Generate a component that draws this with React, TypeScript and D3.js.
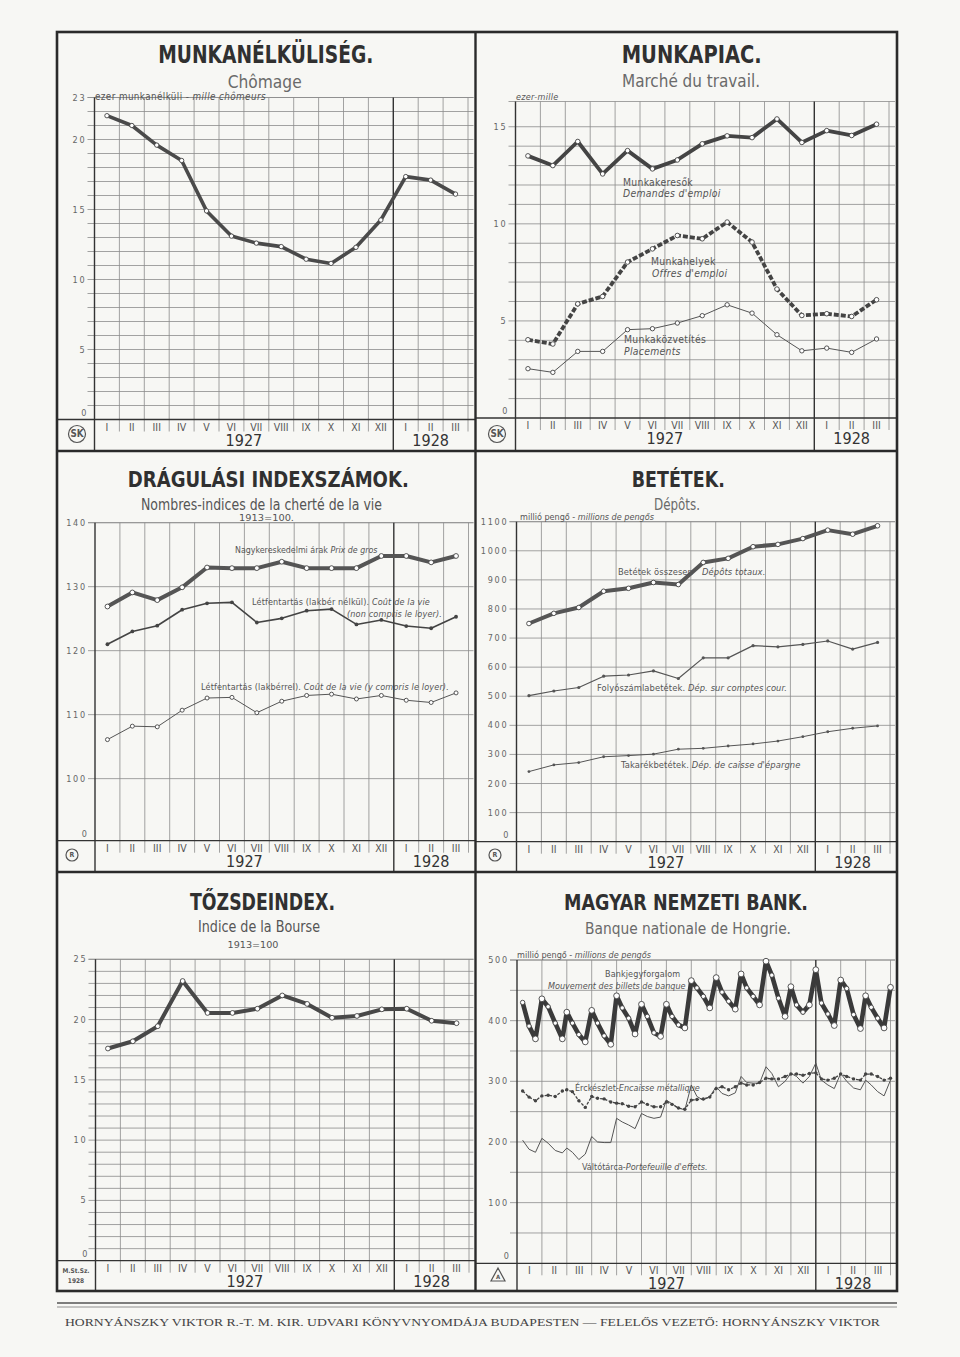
import React from "react";
import * as d3 from "d3";

// ---------- DATA ----------
const months = ["I", "II", "III", "IV", "V", "VI", "VII", "VIII", "IX", "X", "XI", "XII", "I", "II", "III"];
const monthDays = [31, 28, 31, 30, 31, 30, 31, 31, 30, 31, 30, 31, 31, 29, 31];
const years = ["1927", "1928"];
const reportDays = [7, 15, 23]; // plus the last day of each month

// Munkanélküliség (ezer)
const unemployed = [21.7, 21.0, 19.6, 18.5, 14.9, 13.1, 12.6, 12.35, 11.45, 11.15, 12.3, 14.25, 17.35, 17.1, 16.1];

// Munkapiac (ezer)
const jobSeekers = [13.5, 13.0, 14.24, 12.57, 13.77, 12.83, 13.29, 14.12, 14.53, 14.44, 15.4, 14.19, 14.8, 14.55, 15.13];
const jobOffers = [4.03, 3.81, 5.88, 6.26, 8.03, 8.71, 9.4, 9.23, 10.09, 9.06, 6.64, 5.28, 5.37, 5.23, 6.09];
const placements = [2.54, 2.35, 3.43, 3.43, 4.55, 4.6, 4.89, 5.27, 5.83, 5.4, 4.29, 3.46, 3.6, 3.38, 4.07];

// Drágulási indexszámok (1913 = 100)
const wholesale = [126.9, 129.1, 127.9, 129.9, 133.0, 132.9, 132.9, 133.9, 132.9, 132.9, 132.9, 134.8, 134.8, 133.8, 134.8];
const costExRent = [121.0, 123.0, 123.9, 126.4, 127.4, 127.55, 124.4, 125.05, 126.25, 126.5, 124.1, 124.8, 123.85, 123.5, 125.3];
const costInclRent = [106.1, 108.2, 108.1, 110.7, 112.6, 112.7, 110.3, 112.1, 113.0, 113.2, 112.45, 113.0, 112.25, 111.9, 113.4];

// Betétek (millió pengő)
const totalDeposits = [750, 785, 805, 861, 871, 891, 884, 960, 974, 1014, 1022, 1042, 1071, 1057, 1086];
const currentAccounts = [502, 518, 530, 569, 573, 587, 561, 632, 632, 674, 670, 678, 690, 662, 685];
const savingsDeposits = [241, 264, 272, 292, 296, 301, 318, 321, 329, 336, 346, 361, 378, 390, 398];

// Tőzsdeindex
const stockIndex = [17.6, 18.2, 19.45, 23.2, 20.55, 20.55, 20.9, 22.0, 21.3, 20.15, 20.3, 20.85, 20.9, 19.9, 19.7];

// Magyar Nemzeti Bank (millió pengő), 7., 15., 23. és hó vége
const noteCirculation = [
  430, 391, 370, 436, 423, 396, 370, 414, 396, 377, 365, 417, 396, 375, 361, 441,
  421, 404, 378, 427, 407, 380, 374, 427, 407, 393, 388, 466, 454, 440, 421, 471,
  447, 432, 419, 477, 454, 440, 426, 498, 475, 437, 407, 456, 426, 414, 426, 484,
  429, 411, 392, 467, 453, 410, 387, 441, 422, 404, 388, 455,
];
const metalReserve = [
  284, 274, 268, 276, 277, 275, 284, 286, 283, 268, 257, 275, 272, 271, 266, 264,
  263, 259, 258, 266, 262, 258, 258, 266, 262, 256, 254, 269, 270, 271, 274, 288,
  291, 286, 291, 297, 294, 294, 298, 305, 304, 304, 308, 312, 312, 310, 313, 314,
  304, 302, 305, 312, 308, 304, 302, 312, 312, 308, 302, 305,
];
const billPortfolio = [
  203, 188, 183, 206, 198, 186, 182, 190, 183, 171, 180, 209, 200, 199, 199, 239,
  233, 228, 222, 247, 242, 239, 241, 269, 263, 256, 253, 294, 275, 269, 275, 291,
  280, 276, 281, 308, 298, 297, 297, 324, 313, 291, 300, 313, 308, 297, 308, 330,
  302, 294, 288, 313, 300, 289, 286, 302, 294, 283, 276, 302,
];

// ---------- LAYOUT ----------
const COLW = 24.9;
const INK = "#333";
const LINE = "#3e3e3e";
const GRID = "#8c8c8c";
const TXT = "#555";
const PAPER = "#f7f7f4";
const FN = "'Liberation Sans Narrow','DejaVu Sans Condensed','Arial Narrow','Liberation Sans',sans-serif";
const FS = "'Liberation Serif','DejaVu Serif',serif";

const monthlyPos = months.map((_, i) => i + 0.5);
const weeklyPos = monthDays.flatMap((len, m) => [...reportDays, len].map((d) => m + d / len));

type Cfg = {
  left: number; right: number; top: number; bottom: number;
  x0: number; yBase: number; yTop: number; domain: [number, number];
  grid: number[]; labels: number[];
};

const P1: Cfg = { left: 57, right: 475.5, top: 32, bottom: 451, x0: 94.5, yBase: 419.5, yTop: 97.5, domain: [0, 23], grid: d3.range(1, 24), labels: [5, 10, 15, 20, 23] };
const P2: Cfg = { left: 475.5, right: 897, top: 32, bottom: 451, x0: 515.5, yBase: 418, yTop: 101.5, domain: [0, 16.3], grid: d3.range(1, 16), labels: [5, 10, 15] };
const P3: Cfg = { left: 57, right: 475.5, top: 451, bottom: 872, x0: 95, yBase: 840.7, yTop: 522.7, domain: [90.3, 140], grid: d3.range(100, 141, 10), labels: d3.range(100, 141, 10) };
const P4: Cfg = { left: 475.5, right: 897, top: 451, bottom: 872, x0: 516.5, yBase: 841.7, yTop: 521.7, domain: [0, 1100], grid: d3.range(100, 1101, 100), labels: d3.range(100, 1101, 100) };
const P5: Cfg = { left: 57, right: 475.5, top: 872, bottom: 1291, x0: 95.5, yBase: 1260.7, yTop: 959.3, domain: [0, 25], grid: d3.range(1, 26), labels: [5, 10, 15, 20, 25] };
const P6: Cfg = { left: 475.5, right: 897, top: 872, bottom: 1291, x0: 517, yBase: 1263.3, yTop: 960, domain: [0, 500], grid: d3.range(50, 501, 50), labels: d3.range(100, 501, 100) };

type Sc = d3.ScaleLinear<number, number>;

function Panel({ cfg, children }: { cfg: Cfg; children: (x: Sc, y: Sc) => React.ReactNode }) {
  const x = d3.scaleLinear().domain([0, 15]).range([cfg.x0, cfg.x0 + 15 * COLW]);
  const y = d3.scaleLinear().domain(cfg.domain).range([cfg.yBase, cfg.yTop]);
  return (
    <g>
      {cfg.grid.map((v) => (
        <line key={"h" + v} x1={cfg.x0 - 7} x2={cfg.right - 2} y1={y(v)} y2={y(v)} stroke={GRID} strokeWidth={0.8} />
      ))}
      <line x1={cfg.x0 - 7} x2={cfg.right - 2} y1={cfg.yTop} y2={cfg.yTop} stroke={GRID} strokeWidth={0.8} />
      {d3.range(16).map((k) => {
        const full = k === 0 || k === 12;
        return (
          <line key={"v" + k} x1={x(k)} x2={x(k)} y1={cfg.yTop} y2={full ? cfg.bottom : cfg.yBase + 12}
            stroke={full ? INK : GRID} strokeWidth={full ? 1.4 : 0.8} />
        );
      })}
      <line x1={cfg.left} x2={cfg.right} y1={cfg.yBase} y2={cfg.yBase} stroke={INK} strokeWidth={1.3} />
      {months.map((m, i) => (
        <text key={"m" + i} x={x(i + 0.5)} y={cfg.yBase + 11} textAnchor="middle" fontFamily={FN} fontSize={10.5} fill={TXT}>{m}</text>
      ))}
      <text x={x(6)} y={cfg.yBase + 26} textAnchor="middle" fontFamily={FN} fontSize={16} fill={INK}>{years[0]}</text>
      <text x={x(13.5)} y={cfg.yBase + 26} textAnchor="middle" fontFamily={FN} fontSize={16} fill={INK}>{years[1]}</text>
      {cfg.labels.map((v) => (
        <text key={"l" + v} x={cfg.x0 - 8} y={y(v) + 3} textAnchor="end" fontFamily={FN} fontSize={9} letterSpacing={1.8} fill="#666">{v}</text>
      ))}
      <text x={cfg.x0 - 8} y={cfg.yBase - 4} textAnchor="end" fontFamily={FN} fontSize={9} fill="#666">0</text>
      {children(x, y)}
    </g>
  );
}

type SeriesProps = {
  x: Sc; y: Sc; pos: number[]; vals: number[];
  width: number; dash?: string; color?: string;
  marker: "open" | "dot" | "none"; r?: number; rBig?: (i: number) => number;
};

function Series({ x, y, pos, vals, width, dash, color = LINE, marker, r = 2.3, rBig }: SeriesProps) {
  const pts: [number, number][] = vals.map((v, i) => [x(pos[i]), y(v)]);
  const d = d3.line()(pts) || "";
  return (
    <g>
      <path d={d} fill="none" stroke={color} strokeWidth={width} strokeDasharray={dash} strokeLinejoin="round" />
      {marker !== "none" &&
        pts.map(([px, py], i) => (
          <circle key={i} cx={px} cy={py} r={rBig ? rBig(i) : r}
            fill={marker === "open" ? "#fff" : color} stroke={marker === "open" ? "#444" : "none"} strokeWidth={0.9} />
        ))}
    </g>
  );
}

type Part = { t: string; it?: boolean };
function Note({ x, y, parts, size = 9.5, spacing = 0.3, fill = TXT }: { x: number; y: number; parts: Part[]; size?: number; spacing?: number; fill?: string }) {
  return (
    <text x={x} y={y} fontFamily={FN} fontSize={size} letterSpacing={spacing} fill={fill}>
      {parts.map((p, i) => (
        <tspan key={i} fontStyle={p.it ? "italic" : "normal"}>{p.t}</tspan>
      ))}
    </text>
  );
}

function Title({ cx, y, text, w, size }: { cx: number; y: number; text: string; w: number; size: number }) {
  return (
    <text x={cx - w / 2} y={y} textLength={w} lengthAdjust="spacingAndGlyphs" fontFamily={FN} fontWeight="bold" fontSize={size} fill="#303030">{text}</text>
  );
}
function Sub({ cx, y, text, w, size, fill = "#6a6a6a" }: { cx: number; y: number; text: string; w: number; size: number; fill?: string }) {
  return (
    <text x={cx - w / 2} y={y} textLength={w} lengthAdjust="spacingAndGlyphs" fontFamily={FN} fontSize={size} fill={fill}>{text}</text>
  );
}

function CircleLogo({ cx, cy, r, label }: { cx: number; cy: number; r: number; label: string }) {
  return (
    <g>
      <circle cx={cx} cy={cy} r={r} fill="none" stroke="#555" strokeWidth={1.2} />
      <text x={cx} y={cy + r * 0.4} textAnchor="middle" fontFamily={FN} fontWeight="bold" fontSize={r * 1.15} fill="#555">{label}</text>
    </g>
  );
}

export default function App() {
  return (
    <svg width={960} height={1357} viewBox="0 0 960 1357" style={{ position: "absolute", left: 0, top: 0, background: PAPER }}>
      <rect x={0} y={0} width={960} height={1357} fill={PAPER} />

      {/* Panel 1: Munkanélküliség */}
      <Panel cfg={P1}>
        {(x, y) => (
          <g>
            <Series x={x} y={y} pos={monthlyPos} vals={unemployed} width={3.6} color="#4a4a4a" marker="open" r={2.2} />
          </g>
        )}
      </Panel>
      <Title cx={265.8} y={63} text="MUNKANÉLKÜLISÉG." w={215} size={25} />
      <Sub cx={264.7} y={87.5} text="Chômage" w={74} size={17} />
      <Note x={95} y={100} size={9.8} spacing={0.4} fill="#555" parts={[{ t: "ezer munkanélküli - " }, { t: "mille chômeurs", it: true }]} />
      <CircleLogo cx={77} cy={434} r={8.5} label="SK" />

      {/* Panel 2: Munkapiac */}
      <Panel cfg={P2}>
        {(x, y) => (
          <g>
            <Series x={x} y={y} pos={monthlyPos} vals={placements} width={1} color="#555" marker="open" r={2.2} />
            <Series x={x} y={y} pos={monthlyPos} vals={jobOffers} width={3.8} dash="5 2" color="#444" marker="open" r={2.3} />
            <Series x={x} y={y} pos={monthlyPos} vals={jobSeekers} width={3.8} color="#444" marker="open" r={2.3} />
          </g>
        )}
      </Panel>
      <Title cx={691.7} y={62.7} text="MUNKAPIAC." w={140} size={24} />
      <Sub cx={691} y={86.7} text="Marché du travail." w={138} size={17} />
      <Note x={516} y={100} size={9} parts={[{ t: "ezer-mille", it: true }]} />
      <Note x={623} y={185.5} size={10.3} parts={[{ t: "Munkakeresők" }]} />
      <Note x={623} y={197} size={10.3} parts={[{ t: "Demandes d'emploi", it: true }]} />
      <Note x={651} y={265} size={10.3} parts={[{ t: "Munkahelyek" }]} />
      <Note x={652} y={276.5} size={10.3} parts={[{ t: "Offres d'emploi", it: true }]} />
      <Note x={624} y={343} size={10.3} parts={[{ t: "Munkaközvetítés" }]} />
      <Note x={624} y={354.5} size={10.3} parts={[{ t: "Placements", it: true }]} />
      <CircleLogo cx={497} cy={434} r={8.5} label="SK" />

      {/* Panel 3: Drágulási indexszámok */}
      <Panel cfg={P3}>
        {(x, y) => (
          <g>
            <Series x={x} y={y} pos={monthlyPos} vals={costInclRent} width={1} color="#555" marker="open" r={2} />
            <Series x={x} y={y} pos={monthlyPos} vals={costExRent} width={1.6} color="#444" marker="dot" r={1.9} />
            <Series x={x} y={y} pos={monthlyPos} vals={wholesale} width={4} color="#555" marker="open" r={2.4} />
          </g>
        )}
      </Panel>
      <Title cx={268.3} y={487.3} text="DRÁGULÁSI INDEXSZÁMOK." w={281} size={22} />
      <Sub cx={261.5} y={510} text="Nombres-indices de la cherté de la vie" w={241} size={15.5} fill="#555" />
      <Sub cx={266.5} y={520.5} text="1913=100." w={55} size={9} fill="#555" />
      <Note x={235} y={553} size={8.8} spacing={0} parts={[{ t: "Nagykereskedelmi árak   " }, { t: "Prix de gros", it: true }]} />
      <Note x={252} y={605} size={9} spacing={0.15} parts={[{ t: "Létfentartás (lakbér nélkül). " }, { t: "Coût de la vie", it: true }]} />
      <Note x={347} y={616.5} size={9} spacing={0.15} parts={[{ t: "(non compris le loyer).", it: true }]} />
      <Note x={201} y={690} size={9} spacing={0.15} parts={[{ t: "Létfentartás (lakbérrel). " }, { t: "Coût de la vie (y compris le loyer).", it: true }]} />
      <CircleLogo cx={72} cy={855} r={6} label="R" />

      {/* Panel 4: Betétek */}
      <Panel cfg={P4}>
        {(x, y) => (
          <g>
            <Series x={x} y={y} pos={monthlyPos} vals={savingsDeposits} width={1} color="#555" marker="dot" r={1.4} />
            <Series x={x} y={y} pos={monthlyPos} vals={currentAccounts} width={1.2} color="#555" marker="dot" r={1.6} />
            <Series x={x} y={y} pos={monthlyPos} vals={totalDeposits} width={4} color="#555" marker="open" r={2.3} />
          </g>
        )}
      </Panel>
      <Title cx={678.3} y={487.3} text="BETÉTEK." w={93} size={22} />
      <Sub cx={677} y={510} text="Dépôts." w={46} size={15.5} />
      <Note x={520} y={520} size={9} spacing={0} parts={[{ t: "millió pengő - " }, { t: "millions de pengős", it: true }]} />
      <Note x={618} y={575} size={9.3} spacing={0.1} parts={[{ t: "Betétek összesen" }]} />
      <Note x={702} y={575} size={9.3} spacing={0.1} parts={[{ t: "Dépôts totaux.", it: true }]} />
      <Note x={597} y={691} size={9.3} spacing={0.1} parts={[{ t: "Folyószámlabetétek. " }, { t: "Dép. sur comptes cour.", it: true }]} />
      <Note x={621} y={768} size={9.3} spacing={0.1} parts={[{ t: "Takarékbetétek. " }, { t: "Dép. de caisse d'épargne", it: true }]} />
      <CircleLogo cx={495} cy={855} r={6} label="R" />

      {/* Panel 5: Tőzsdeindex */}
      <Panel cfg={P5}>
        {(x, y) => (
          <g>
            <Series x={x} y={y} pos={monthlyPos} vals={stockIndex} width={4} color="#484848" marker="open" r={2.4} />
          </g>
        )}
      </Panel>
      <Title cx={262.5} y={910} text="TŐZSDEINDEX." w={145} size={23} />
      <Sub cx={259} y={932} text="Indice de la Bourse" w={122} size={16.5} fill="#555" />
      <Sub cx={253} y={947.5} text="1913=100" w={51} size={9} fill="#555" />
      <text x={76} y={1273} textAnchor="middle" fontFamily={FN} fontWeight="bold" fontSize={6.5} fill="#555">M.St.Sz.</text>
      <text x={76} y={1283} textAnchor="middle" fontFamily={FN} fontWeight="bold" fontSize={6.5} fill="#555">1928</text>

      {/* Panel 6: Magyar Nemzeti Bank */}
      <Panel cfg={P6}>
        {(x, y) => (
          <g>
            <Series x={x} y={y} pos={weeklyPos} vals={billPortfolio} width={1} color="#555" marker="none" />
            <Series x={x} y={y} pos={weeklyPos} vals={metalReserve} width={1.3} dash="3 1.5" color="#444" marker="dot" r={1.7} />
            <Series x={x} y={y} pos={weeklyPos} vals={noteCirculation} width={4.6} color="#3a3a3a" marker="open"
              rBig={(i) => (i % 4 >= 2 ? 2.9 : 2.2)} />
          </g>
        )}
      </Panel>
      <Title cx={686} y={910} text="MAGYAR NEMZETI BANK." w={244} size={21} />
      <Sub cx={688} y={933.5} text="Banque nationale de Hongrie." w={206} size={16.5} />
      <Note x={517} y={958} size={9} spacing={0} parts={[{ t: "millió pengő - " }, { t: "millions de pengős", it: true }]} />
      <Note x={605} y={976.5} size={9} spacing={0.1} parts={[{ t: "Bankjegyforgalom" }]} />
      <Note x={548} y={988.5} size={9} spacing={0} parts={[{ t: "Mouvement des billets de banque", it: true }]} />
      <Note x={575} y={1091} size={9} spacing={0} parts={[{ t: "Érckészlet-" }, { t: "Encaisse métallique", it: true }]} />
      <Note x={582} y={1170} size={9} spacing={0} parts={[{ t: "Váltótárca-" }, { t: "Portefeuille d'effets.", it: true }]} />
      <g>
        <path d="M498,1268 L505,1281 L491,1281 Z" fill="none" stroke="#555" strokeWidth={1.2} />
        <text x={498} y={1279} textAnchor="middle" fontFamily={FN} fontWeight="bold" fontSize={6} fill="#555">A</text>
      </g>

      {/* Frames */}
      <rect x={57} y={32} width={840} height={1259} fill="none" stroke="#2a2a2a" strokeWidth={2.6} />
      <line x1={475.5} x2={475.5} y1={32} y2={1291} stroke="#2a2a2a" strokeWidth={2.4} />
      <line x1={57} x2={897} y1={451} y2={451} stroke="#2a2a2a" strokeWidth={2.4} />
      <line x1={57} x2={897} y1={872} y2={872} stroke="#2a2a2a" strokeWidth={2.4} />

      {/* Footer */}
      <line x1={57} x2={897} y1={1303} y2={1303} stroke="#555" strokeWidth={1.4} />
      <line x1={57} x2={897} y1={1307} y2={1307} stroke="#777" strokeWidth={0.8} />
      <text x={65} y={1326} textLength={815} lengthAdjust="spacingAndGlyphs" fontFamily={FS} fontSize={10} fill="#444">
        HORNYÁNSZKY VIKTOR R.-T. M. KIR. UDVARI KÖNYVNYOMDÁJA BUDAPESTEN — FELELŐS VEZETŐ: HORNYÁNSZKY VIKTOR
      </text>
    </svg>
  );
}
